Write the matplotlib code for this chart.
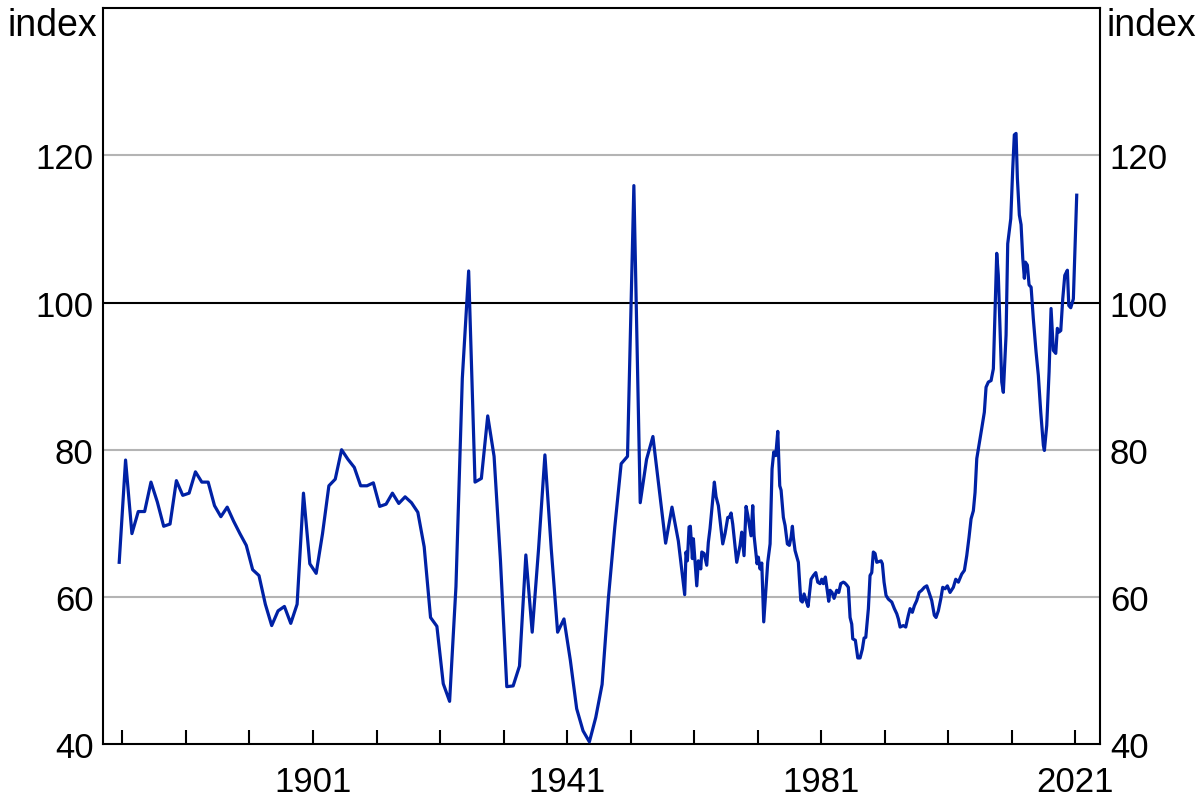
import numpy as np
import matplotlib
matplotlib.use("Agg")
import matplotlib.pyplot as plt

plt.rcParams['font.family'] = ['Liberation Sans', 'DejaVu Sans']

# annual observations 1870-1959
annual_years = np.arange(1870, 1960)
annual_vals = [64.7, 78.6, 68.6, 71.6, 71.6, 75.6, 72.9, 69.6, 69.9, 75.8,
               73.8, 74.1, 77.0, 75.6, 75.6, 72.4, 70.9, 72.2, 70.3, 68.6,
               67.0, 63.7, 62.9, 59.0, 56.1, 58.1, 58.7, 56.4, 59.0, 74.1,
               64.5, 63.2, 68.6, 75.1, 76.0, 80.0, 78.7, 77.6, 75.1, 75.1,
               75.5, 72.3, 72.6, 74.1, 72.7, 73.6, 72.8, 71.5, 66.8, 57.2,
               56.0, 48.2, 45.8, 61.4, 89.7, 104.3, 75.6, 76.1, 84.6, 79.1,
               65.0, 47.8, 47.9, 50.6, 65.7, 55.2, 66.5, 79.3, 66.5, 55.2,
               57.0, 51.4, 44.8, 41.8, 40.3, 43.6, 48.1, 59.9, 69.5, 78.1,
               79.1, 115.9, 72.8, 78.7, 81.8, 74.6, 67.3, 72.2, 67.6, 60.3]

# higher frequency observations after 1959 (decimal dates)
late_dates = [1959.71, 1959.92, 1960.19, 1960.39, 1960.71, 1960.87, 1961.40, 1961.65,
              1962.03, 1962.19, 1962.55, 1962.97, 1963.22, 1963.49, 1964.17, 1964.44,
              1964.80, 1965.49, 1965.85, 1966.28, 1966.53, 1966.80, 1967.06, 1967.69,
              1968.21, 1968.48, 1968.84, 1969.16, 1969.43, 1969.68, 1969.94, 1970.21,
              1970.42, 1970.89, 1971.09, 1971.36, 1971.63, 1971.94, 1972.57, 1972.94,
              1973.25, 1973.52, 1973.83, 1974.15, 1974.46, 1974.67, 1975.03, 1975.30,
              1975.66, 1975.97, 1976.24, 1976.45, 1976.60, 1976.87, 1977.39, 1977.77,
              1978.02, 1978.29, 1978.60, 1978.92, 1979.39, 1979.75, 1980.13, 1980.44,
              1980.80, 1981.07, 1981.32, 1981.64, 1981.86, 1982.17, 1982.38, 1982.69,
              1983.01, 1983.43, 1983.75, 1984.06, 1984.47, 1984.69, 1985.01, 1985.26,
              1985.53, 1985.79, 1985.95, 1986.36, 1986.74, 1987.10, 1987.46, 1987.73,
              1988.00, 1988.41, 1988.67, 1988.94, 1989.19, 1989.46, 1989.73, 1990.09,
              1990.41, 1990.61, 1990.88, 1991.19, 1991.55, 1992.09, 1992.50, 1992.88,
              1993.13, 1993.40, 1993.91, 1994.29, 1994.70, 1994.97, 1995.33, 1995.65,
              1996.02, 1996.39, 1996.81, 1997.22, 1997.60, 1997.96, 1998.38, 1998.79,
              1999.06, 1999.42, 1999.80, 2000.11, 2000.48, 2000.84, 2001.26, 2001.78,
              2002.16, 2002.57, 2003.10, 2003.52, 2003.89, 2004.25, 2004.57, 2004.93,
              2005.20, 2005.47, 2005.72, 2006.25, 2006.66, 2006.93, 2007.29, 2007.72,
              2008.08, 2008.61, 2008.86, 2009.40, 2009.65, 2010.08, 2010.34, 2010.82,
              2011.13, 2011.38, 2011.65, 2011.86, 2012.17, 2012.44, 2012.71, 2012.96,
              2013.12, 2013.43, 2013.70, 2014.02, 2014.37, 2014.80, 2015.16, 2015.54,
              2015.95, 2016.11, 2016.48, 2016.85, 2017.16, 2017.52, 2017.90, 2018.15,
              2018.42, 2018.69, 2019.00, 2019.32, 2019.73, 2019.95, 2020.26, 2020.67,
              2021.20]
late_vals = [66.1, 64.9, 69.5, 69.6, 65.2, 67.9, 61.5, 64.9,
             63.8, 66.1, 65.9, 64.3, 67.4, 69.3, 75.6, 73.6,
             72.4, 67.2, 68.6, 70.8, 70.8, 71.4, 69.9, 64.7,
             67.0, 68.8, 65.6, 72.3, 71.1, 69.7, 68.3, 72.4,
             68.3, 64.5, 65.4, 63.8, 64.6, 56.6, 64.7, 67.2,
             77.4, 79.7, 79.2, 82.5, 75.1, 74.5, 70.8, 69.7,
             67.2, 67.0, 68.1, 69.6, 68.1, 66.3, 64.7, 59.5,
             59.3, 60.4, 59.5, 58.7, 62.4, 62.9, 63.3, 62.0,
             61.8, 62.4, 61.8, 62.7, 61.3, 59.4, 60.9, 60.6,
             59.8, 60.9, 60.6, 61.8, 62.0, 61.9, 61.6, 61.3,
             57.2, 56.3, 54.3, 54.1, 51.7, 51.7, 52.9, 54.4,
             54.5, 58.4, 62.9, 63.3, 66.1, 65.9, 64.7, 64.8,
             64.9, 64.5, 62.0, 60.2, 59.7, 59.3, 58.4, 57.7,
             57.0, 55.9, 56.1, 55.9, 57.5, 58.4, 57.9, 58.8,
             59.5, 60.6, 60.9, 61.3, 61.5, 60.6, 59.5, 57.5,
             57.2, 58.1, 59.7, 61.3, 61.1, 61.5, 60.6, 61.3,
             62.4, 62.0, 63.1, 63.6, 65.6, 68.1, 70.6, 71.7,
             74.2, 78.8, 80.1, 82.9, 85.1, 88.5, 89.2, 89.4,
             91.0, 106.7, 103.7, 89.2, 87.8, 95.6, 108.0, 111.4,
             118.2, 122.8, 123.0, 116.9, 111.9, 110.6, 106.0, 103.3,
             105.5, 105.1, 102.4, 102.1, 97.8, 93.3, 90.1, 85.1,
             80.6, 79.9, 83.3, 90.6, 99.2, 93.5, 93.1, 96.5,
             96.0, 96.2, 100.5, 103.7, 104.4, 99.6, 99.3, 100.5,
             114.6]

tick_years = list(range(1871, 2022, 10))
tick_labels = [str(y) if y in (1901, 1941, 1981, 2021) else '' for y in tick_years]
y_ticks = [40, 60, 80, 100, 120]

# annual points sit mid-year
x = np.concatenate([annual_years + 0.5, late_dates])
y = np.concatenate([annual_vals, late_vals])

fig = plt.figure(figsize=(12, 8.03), dpi=100)
ax = fig.add_axes([0.0861, 0.0722, 0.8306, 0.9162])

for v in [60, 80, 120]:
    ax.axhline(v, color='#b4b4b4', lw=1.5, zorder=1)
ax.axhline(100, color='black', lw=1.5, zorder=1)

ax.plot(x, y, color='#0021a5', lw=2.3, zorder=3)

ax.set_xlim(1868.0, 2024.87)
ax.set_ylim(40, 140)
ax.set_xticks(tick_years)
ax.set_xticklabels(tick_labels)
ax.set_yticks(y_ticks)

ax.tick_params(axis='x', direction='in', length=10, width=1.5, pad=15, labelsize=25)
ax.tick_params(axis='y', length=0, pad=7, labelsize=25, labelright=True)
for s in ax.spines.values():
    s.set_linewidth(1.5)

ax.text(-0.006, 0.977, 'index', transform=ax.transAxes, ha='right', va='center', fontsize=27)
ax.text(1.006, 0.977, 'index', transform=ax.transAxes, ha='left', va='center', fontsize=27)

fig.savefig('out.png', dpi=100)
